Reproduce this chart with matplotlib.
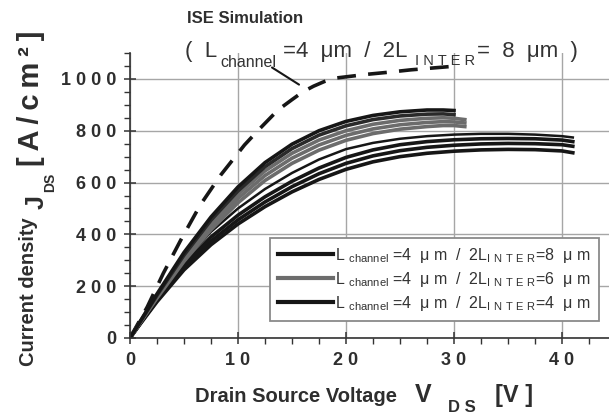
import matplotlib
matplotlib.use("Agg")
import matplotlib.pyplot as plt
from matplotlib.ticker import MultipleLocator, FixedLocator, FixedFormatter

plt.rcParams['font.family'] = ['Liberation Sans', 'DejaVu Sans']
plt.rcParams['mathtext.fontset'] = 'custom'
plt.rcParams['mathtext.rm'] = 'Liberation Sans'
plt.rcParams['mathtext.bf'] = 'Liberation Sans:bold'

# ---------------- data ----------------
# ISE simulation (dashed)
V_sim = [0, 1.6, 3.1, 4.7, 6.5, 8.4, 10.6, 11.9, 13.7, 15, 16, 17, 18, 19, 20, 22, 24, 26, 28, 30.3]
J_sim = [0, 120, 251, 378, 513, 629, 745, 803, 880, 920, 950, 972, 990, 1003, 1008, 1018, 1026, 1035, 1042, 1050]

# measured curves, upper group (end near 30 V)
V_up = [0, 1, 2.5, 5, 7.5, 10, 12.5, 15, 17.5, 20, 22.5, 25, 27.5, 29, 30, 31]
J_8um_a = [0, 68, 170, 330, 467, 583, 677, 748, 800, 836, 859, 873, 880, 880, 878]
J_8um_b = [0, 66, 165, 320, 455, 568, 661, 731, 783, 819, 843, 857, 864, 865, 862]
J_6um_a = [0, 65, 162, 314, 445, 555, 645, 713, 764, 800, 825, 840, 848, 850, 848, 843]
J_6um_b = [0, 64, 158, 305, 432, 539, 627, 694, 745, 782, 807, 823, 832, 835, 834, 830]
J_6um_c = [0, 63, 154, 296, 418, 522, 608, 674, 725, 763, 789, 806, 816, 820, 820, 816]

# measured curves, lower group (end near 41 V)
V_lo = [0, 1, 2.5, 5, 7.5, 10, 12.5, 15, 17.5, 20, 22.5, 25, 27.5, 30, 32.5, 35, 37.5, 40, 41]
J_4um_a = [0, 63, 155, 295, 410, 500, 575, 637, 689, 729, 753, 769, 779, 785, 788, 788, 785, 779, 774]
J_4um_b = [0, 61, 150, 283, 390, 474, 545, 605, 656, 697, 726, 746, 758, 765, 769, 770, 769, 764, 758]
J_4um_c = [0, 59, 145, 273, 374, 456, 525, 584, 634, 674, 703, 723, 736, 744, 749, 751, 750, 746, 740]
J_4um_d = [0, 57, 140, 263, 360, 440, 507, 564, 612, 651, 680, 700, 713, 721, 726, 728, 727, 722, 715]

series_labels = [
    r"L $_{\mathregular{channel}}$ =4  μ m  /  2L$_{\mathregular{I\ N\ T\ E\ R}}$=8  μ m",
    r"L $_{\mathregular{channel}}$ =4  μ m  /  2L$_{\mathregular{I\ N\ T\ E\ R}}$=6  μ m",
    r"L $_{\mathregular{channel}}$ =4  μ m  /  2L$_{\mathregular{I\ N\ T\ E\ R}}$=4  μ m",
]
x_ticks = [0, 10, 20, 30, 40]
x_tick_labels = ["0", "1 0", "2 0", "3 0", "4 0"]
y_ticks = [0, 200, 400, 600, 800, 1000]
y_tick_labels = ["0", "2 0 0", "4 0 0", "6 0 0", "8 0 0", "1 0 0 0"]
annot_from = (13.15, 1044)
annot_to = (15.65, 978)

# ---------------- figure ----------------
W, H = 609, 416
fig = plt.figure(figsize=(W / 100, H / 100), dpi=100)
ax = fig.add_axes([130 / W, 78 / H, 479 / W, 285 / H])

def fx(x):
    return x / W

def fy(y):
    return 1 - y / H

BLACK = '#161616'
GRAY = '#6c6c6c'
TXT = '#2e2e2e'
lw = 2.6

ax.plot(V_sim, J_sim, color=BLACK, lw=2.6, dashes=(5.2, 3.4), solid_capstyle='butt')

ax.plot(V_lo[:len(J_4um_d)], J_4um_d, color=BLACK, lw=lw)
ax.plot(V_lo[:len(J_4um_c)], J_4um_c, color=BLACK, lw=lw)
ax.plot(V_lo[:len(J_4um_b)], J_4um_b, color=BLACK, lw=lw)
l3, = ax.plot(V_lo[:len(J_4um_a)], J_4um_a, color=BLACK, lw=1.8)

ax.plot(V_up[:len(J_6um_c)], J_6um_c, color=GRAY, lw=lw)
ax.plot(V_up[:len(J_6um_b)], J_6um_b, color=GRAY, lw=lw)
l2, = ax.plot(V_up[:len(J_6um_a)], J_6um_a, color=GRAY, lw=lw)
ax.plot(V_up[:len(J_8um_b)], J_8um_b, color='#2a2a2a', lw=lw)
l1, = ax.plot(V_up[:len(J_8um_a)], J_8um_a, color=BLACK, lw=lw)

ax.set_xlim(0, 44.35)
ax.set_ylim(0, 1100)

ax.xaxis.set_major_locator(FixedLocator(x_ticks))
ax.xaxis.set_major_formatter(FixedFormatter(x_tick_labels))
ax.xaxis.set_minor_locator(MultipleLocator(2.5))
ax.yaxis.set_major_locator(FixedLocator(y_ticks))
ax.yaxis.set_major_formatter(FixedFormatter(y_tick_labels))
ax.yaxis.set_minor_locator(MultipleLocator(50))

ax.grid(True, which='major', color='#a6a6a6', lw=1.0)
ax.set_axisbelow(True)
for s in ['top', 'right']:
    ax.spines[s].set_visible(False)
for s in ['left', 'bottom']:
    ax.spines[s].set_color('#333333')
    ax.spines[s].set_linewidth(1.2)

ax.tick_params(which='major', direction='inout', length=8, width=1.1, color='#333333',
               labelsize=13, pad=6)
ax.tick_params(which='minor', direction='out', length=4, width=1.0, color='#333333')
for lab in ax.get_xticklabels() + ax.get_yticklabels():
    lab.set_fontweight('bold')
    lab.set_color(TXT)

leg = ax.legend([l1, l2, l3], series_labels, loc='upper left',
                bbox_to_anchor=(fx(270), fy(238)), bbox_transform=fig.transFigure,
                borderaxespad=0, fontsize=11.5, handlelength=3.45, handletextpad=0.12,
                borderpad=0.5, labelspacing=0.3, fancybox=False, framealpha=1,
                edgecolor='#8a8a8a')
leg.get_frame().set_linewidth(1.3)
for t in leg.get_texts():
    t.set_color('#333333')
for h in leg.legend_handles:
    h.set_linewidth(3)

ax.annotate('', xy=annot_to, xytext=annot_from,
            arrowprops=dict(arrowstyle='-', color=BLACK, lw=1.5, shrinkA=0, shrinkB=0))

# titles
fig.text(fx(187), fy(23), "ISE Simulation", fontsize=12, fontweight='bold',
         color=TXT, va='baseline', ha='left')
tkw = dict(color='#333333', va='baseline', ha='left')
fig.text(fx(185), fy(57), "(  L", fontsize=16, **tkw)
fig.text(fx(220), fy(67), "channel", fontsize=11.5, **tkw)
fig.text(fx(283), fy(57), "=4  μm  /  2L", fontsize=16, **tkw)
fig.text(fx(415), fy(65), "I N T E R", fontsize=10.5, **tkw)
fig.text(fx(477), fy(57), "=  8  μm  )", fontsize=16, **tkw)

# x label
fig.text(fx(195), fy(402), "Drain Source Voltage", fontsize=14.5, fontweight='bold',
         color=TXT, va='baseline', ha='left')
fig.text(fx(415), fy(402), "V", fontsize=18, fontweight='bold', color=TXT,
         va='baseline', ha='left')
fig.text(fx(448), fy(412), "D S", fontsize=12, fontweight='bold', color=TXT,
         va='baseline', ha='left')
fig.text(fx(495), fy(402), "[V ]", fontsize=17, fontweight='bold', color=TXT,
         va='baseline', ha='left')

# y label
kw = dict(rotation=90, rotation_mode='anchor', ha='left', va='baseline', color=TXT,
          fontweight='bold')
fig.text(fx(34), fy(366), "Current density", fontsize=14.5, **kw)
fig.text(fx(44), fy(209), "J", fontsize=18, **kw)
fig.text(fx(54), fy(192), "DS", fontsize=10, **kw)
fig.text(fx(39), fy(166), "[\u2009A\u2009/\u2009c\u2009m\u2009²\u2009]", fontsize=21, **kw)

fig.savefig("out.png", dpi=100)
